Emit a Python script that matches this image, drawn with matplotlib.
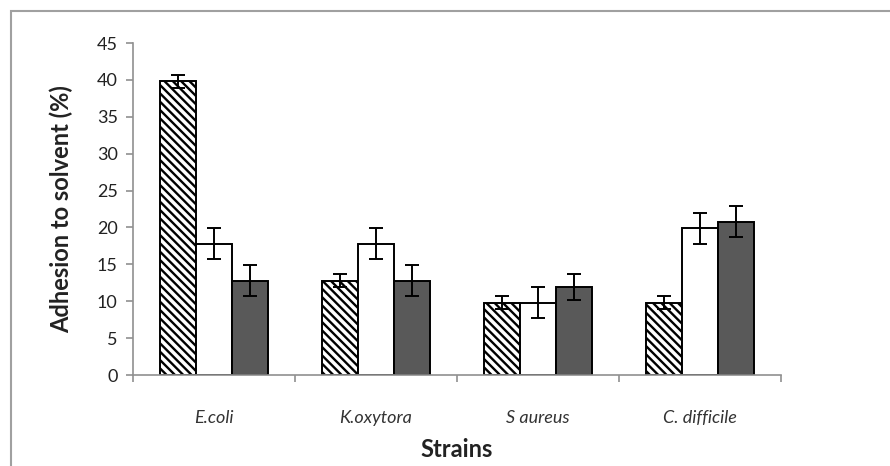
import numpy as np
import matplotlib
matplotlib.use("Agg")
import matplotlib.pyplot as plt
from matplotlib.patches import Rectangle

strains = ["E.coli", "K.oxytora", "S aureus", "C. difficile"]

hatched_vals = [39.8, 12.8, 9.8, 9.8]
hatched_err = [0.9, 0.9, 0.9, 0.9]
white_vals = [17.8, 17.8, 9.8, 19.9]
white_err = [2.1, 2.1, 2.1, 2.1]
dark_vals = [12.8, 12.8, 11.9, 20.8]
dark_err = [2.1, 2.1, 1.8, 2.1]

y_ticks = [0, 5, 10, 15, 20, 25, 30, 35, 40, 45]

plt.rcParams['font.family'] = ['Lato', 'DejaVu Sans']
plt.rcParams['hatch.linewidth'] = 1.7

fig = plt.figure(figsize=(8.9, 4.66), dpi=100)
# outer chart frame
fig.patches.append(Rectangle((11 / 890, -0.1), 2.0, 1 - 11 / 466 + 0.1,
                             transform=fig.transFigure, fill=False,
                             edgecolor='#a0a0a0', linewidth=1.5))

ax = fig.add_axes([133 / 890, 1 - 375 / 466, (781 - 133) / 890, (375 - 43) / 466])

x = np.arange(len(strains))
w = 0.222
err_kw = dict(ecolor='black', elinewidth=1.4, capsize=5, capthick=1.4)

ax.bar(x - w, hatched_vals, w, yerr=hatched_err, color='white',
       edgecolor='black', linewidth=1.4, hatch='\\\\\\\\', error_kw=err_kw)
ax.bar(x, white_vals, w, yerr=white_err, color='white',
       edgecolor='black', linewidth=1.4, error_kw=err_kw)
ax.bar(x + w, dark_vals, w, yerr=dark_err, color='#595959',
       edgecolor='black', linewidth=1.4, error_kw=err_kw)

ax.set_xlim(-0.5, len(strains) - 0.5)
ax.set_ylim(0, 45)
ax.set_yticks(y_ticks)
ax.set_yticklabels([str(v) for v in y_ticks], fontsize=13, color='#222222')

ax.set_xticks(x)
ax.set_xticklabels(strains, fontsize=13, style='italic', color='#333333')
ax.set_xticks(np.arange(len(strains) + 1) - 0.5, minor=True)
ax.tick_params(axis='x', which='major', length=0, pad=25)
ax.tick_params(axis='x', which='minor', length=5, color='#909090', width=1.2)
ax.tick_params(axis='y', length=5, color='#909090', width=1.2, pad=6)

for side in ['top', 'right']:
    ax.spines[side].set_visible(False)
for side in ['left', 'bottom']:
    ax.spines[side].set_color('#909090')
    ax.spines[side].set_linewidth(1.2)

ax.set_ylabel("Adhesion to solvent (%)", fontsize=17, fontweight='bold',
              color='#222222', labelpad=17)
ax.set_xlabel("Strains", fontsize=17, fontweight='bold', color='#222222',
              labelpad=9)

fig.savefig("out.png", dpi=100)
